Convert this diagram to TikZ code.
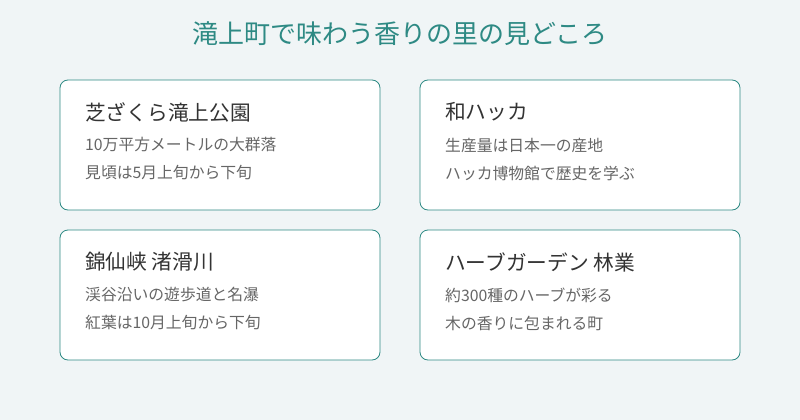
\documentclass[tikz,border=0pt]{standalone}
\usepackage{fontspec}
\setmainfont{Noto Sans CJK JP}
\definecolor{bg}{HTML}{F0F5F6}
\definecolor{teal}{HTML}{2E8A84}
\definecolor{dark}{HTML}{333333}
\definecolor{grey}{HTML}{666666}
\tikzset{
 card/.style={draw=teal,line width=0.8pt,fill=white,rounded corners=8pt},
 head/.style={anchor=west,text=dark,font=\fontsize{20.7}{24}\selectfont,inner sep=0},
 sub/.style={anchor=west,text=grey,font=\fontsize{15.8}{18}\selectfont,inner sep=0},
}
\begin{document}
\begin{tikzpicture}[x=1pt,y=-1pt]
\fill[bg] (0,0) rectangle (800,420);
\useasboundingbox (0,0) rectangle (800,420);
\node[text=teal,font=\fontsize{26}{30}\selectfont] (title) at (400,34) {滝上町で味わう香りの里の見どころ};
\foreach \n/\x/\y/\h/\a/\b in {
 a/60/80/芝ざくら滝上公園/10万平方メートルの大群落/見頃は5月上旬から下旬,
 b/420/80/和ハッカ/生産量は日本一の産地/ハッカ博物館で歴史を学ぶ,
 c/60/230/錦仙峡 渚滑川/渓谷沿いの遊歩道と名瀑/紅葉は10月上旬から下旬,
 d/420/230/ハーブガーデン 林業/約300種のハーブが彩る/木の香りに包まれる町}{
 \draw[card] (\x,\y) rectangle ++(320,130);
 \node[head] (\n h) at (\x+25,\y+32) {\h};
 \node[sub] (\n a) at (\x+25,\y+65) {\a};
 \node[sub] (\n b) at (\x+25,\y+93) {\b};
}
\end{tikzpicture}
\end{document}
